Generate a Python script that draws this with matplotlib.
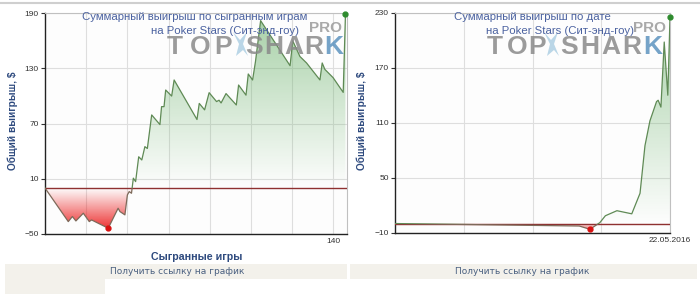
import numpy as np
import matplotlib
matplotlib.use("Agg")
import matplotlib.pyplot as plt
from matplotlib.path import Path
from matplotlib.patches import Rectangle, Polygon
from matplotlib.lines import Line2D

plt.rcParams['font.family'] = ['Liberation Sans', 'DejaVu Sans']

# --- data: cumulative winnings by games played (left) ---
games = [0, 11.3, 13.3, 15, 18.6, 21.5, 22.6, 30.7, 35.5, 36.4, 38.8, 40, 40.9, 42,
         42.9, 44, 45.5, 47, 48.5, 49.7, 51.8, 55.8, 56.6, 57.8, 58.6, 61.5, 62.7,
         73.8, 74.9, 77.5, 79.7, 83.3, 84.5, 85.5, 87.9, 92.9, 94, 97.6, 98.7, 100.8,
         102.2, 104.7, 119, 120.3, 123.8, 127, 133.5, 134.6, 135.9, 139.9, 144.8, 145.9]
win_games = [0, -36.5, -31, -35.8, -27.4, -36.5, -34.7, -43.7, -22, -25.6, -29.2, -7.5, -3.9, -5.7,
             10.7, 7, 34, 30.5, 45, 43, 79.5, 69, 88.5, 88.5, 106.6, 100, 117.5,
             74.5, 92, 85, 103.7, 94, 95.5, 92.5, 102.7, 90.3, 112, 101, 124, 117.5,
             137.5, 182, 133, 160, 143, 136, 117.5, 136, 129, 120, 104, 189]
games_ticks = [20, 40, 60, 80, 100, 120, 140]
games_ticklabels = ['', '', '', '', '', '', '140']
games_yticks = [-50, 10, 70, 130, 190]

# --- data: cumulative winnings by date (right), x = day index ---
days = [0, 67, 70.9, 74.5, 76.5, 80.7, 86.1, 89.1, 90.9, 92.7, 95.1, 95.7, 96.7, 97.9, 99.2, 100]
win_days = [0, -2.7, -6.3, 1, 8.5, 14, 10.6, 33, 85, 112, 133, 134.5, 127, 198, 140, 225]
days_ticks = [25, 50, 75, 100]
days_ticklabels = ['', '', '', '22.05.2016']
days_yticks = [-10, 50, 110, 170, 230]

W, H = 700, 294
LINE_GREEN = '#5f8a55'
LINE_BROWN = '#7d6a5a'
TITLE_BLUE = '#4b62a0'
LABEL_BLUE = '#2e4a7e'
LOGO_GRAY = '#8a8a8a'
LOGO_BLUE = '#5d93bf'


def px(x, y):
    return x / W, 1 - y / H


def gradient_fill(ax, x, y, xlim, ylim):
    verts = [(x[0], 0)] + list(zip(x, y)) + [(x[-1], 0), (x[0], 0)]
    path = Path(verts, closed=True)
    n = 256
    # green above zero: stronger at top, fading to zero
    g = np.zeros((n, 1, 4))
    g[:, 0, :3] = (0.42, 0.70, 0.42)
    g[:, 0, 3] = np.linspace(0.0, 0.6, n)
    im = ax.imshow(g, extent=[xlim[0], xlim[1], 0, ylim[1]], origin='lower',
                   aspect='auto', zorder=1, interpolation='bilinear')
    im.set_clip_path(path, transform=ax.transData)
    # red below zero: strong at bottom, fading to zero
    r = np.zeros((n, 1, 4))
    r[:, 0, :3] = (0.92, 0.05, 0.05)
    r[:, 0, 3] = np.linspace(0.95, 0.0, n)
    im2 = ax.imshow(r, extent=[xlim[0], xlim[1], ylim[0], 0], origin='lower',
                    aspect='auto', zorder=1, interpolation='bilinear')
    im2.set_clip_path(path, transform=ax.transData)


def draw_panel(ax, x, y, xlim, ylim, xticks, xticklabels, yticks):
    ax.set_facecolor('#fdfdfd')
    ax.set_xlim(xlim)
    ax.set_ylim(ylim)
    gradient_fill(ax, x, y, xlim, ylim)
    ax.axhline(0, color='#8e3030', lw=1, zorder=3)
    up, = ax.plot(x, y, color=LINE_GREEN, lw=0.9, zorder=4)
    up.set_clip_path(Rectangle((xlim[0], 0), xlim[1] - xlim[0], ylim[1], transform=ax.transData))
    dn, = ax.plot(x, y, color=LINE_BROWN, lw=0.9, zorder=4)
    dn.set_clip_path(Rectangle((xlim[0], ylim[0]), xlim[1] - xlim[0], -ylim[0], transform=ax.transData))
    i_min = int(np.argmin(y))
    ax.plot(x[i_min], y[i_min], 'o', color='#d81010', ms=3.5, zorder=5, clip_on=False)
    ax.plot(x[-1], y[-1], 'o', color='#2e8b2e', ms=3.5, zorder=5, clip_on=False)
    ax.set_xticks(xticks)
    ax.set_xticklabels(xticklabels)
    ax.set_yticks(yticks)
    ax.grid(True, color='#dedede', lw=0.8, zorder=0)
    ax.set_axisbelow(True)
    ax.tick_params(axis='y', length=3, width=0.8, colors='#333333', labelsize=6, pad=1.5)
    ax.tick_params(axis='x', length=0, colors='#333333', labelsize=6, pad=3)
    for s in ['left', 'bottom']:
        ax.spines[s].set_color('#222222')
        ax.spines[s].set_linewidth(1)
    for s in ['top', 'right']:
        ax.spines[s].set_color('#c0c0c0')
        ax.spines[s].set_linewidth(0.8)


def draw_logo(centers, fish_x, pro_x, size):
    # watermark "TOP SHARK PRO", letters placed one by one
    for ch, cx in zip('TOPSHARK', centers):
        fig.text(*px(cx, 54), ch, fontsize=size, fontweight='bold',
                 color=LOGO_BLUE if ch == 'K' else LOGO_GRAY,
                 ha='center', va='baseline', alpha=0.85, zorder=6)
    # small fish mark between TOP and SHARK
    fish = [px(fish_x - 7, 32), px(fish_x - 1, 44), px(fish_x - 4, 56), px(fish_x + 3, 50),
            px(fish_x + 8, 56), px(fish_x + 3, 44), px(fish_x + 7, 32), px(fish_x, 40)]
    fig.add_artist(Polygon(fish, closed=True, facecolor='#a9cde2', edgecolor='none',
                           alpha=0.8, zorder=6))
    fig.text(*px(pro_x, 32), 'PRO', fontsize=11, fontweight='bold', color='#9a9a9a',
             ha='center', va='baseline', alpha=0.85, zorder=6)


fig = plt.figure(figsize=(7, 2.94), dpi=100)

# page decorations
fig.add_artist(Line2D([0, 1], [1 - 3 / H, 1 - 3 / H], color='#cfcfcf', lw=1.5))
fig.add_artist(Rectangle(px(5, 279), 342 / W, 15 / H, color='#f3f1eb', lw=0))
fig.add_artist(Rectangle(px(5, 294), 100 / W, 15 / H, color='#f3f1eb', lw=0))
fig.add_artist(Rectangle(px(350, 279), 347 / W, 15 / H, color='#f3f1eb', lw=0))

ax1 = fig.add_axes([45 / W, 1 - 234 / H, 301.5 / W, 220.7 / H])
draw_panel(ax1, games, win_games, (0, 146.4), (-50, 190),
           games_ticks, games_ticklabels, games_yticks)

ax2 = fig.add_axes([395 / W, 1 - 232.7 / H, 275 / W, 220 / H])
draw_panel(ax2, days, win_days, (0, 100), (-10, 230),
           days_ticks, days_ticklabels, days_yticks)

draw_logo([175, 200, 223, 254, 274, 294, 314, 334], 240, 325, 19)
draw_logo([495, 517, 537, 569, 590, 611, 632, 653], 551, 650, 19)

# titles
fig.text(*px(195, 20.5), 'Суммарный выигрыш по сыгранным играм', fontsize=8.2,
         color=TITLE_BLUE, ha='center', va='baseline', zorder=7)
fig.text(*px(225, 34), 'на Poker Stars (Сит-энд-гоу)', fontsize=8.2,
         color=TITLE_BLUE, ha='center', va='baseline', zorder=7)
fig.text(*px(532, 20.5), 'Суммарный выигрыш по дате', fontsize=8.2,
         color=TITLE_BLUE, ha='center', va='baseline', zorder=7)
fig.text(*px(560, 34), 'на Poker Stars (Сит-энд-гоу)', fontsize=8.2,
         color=TITLE_BLUE, ha='center', va='baseline', zorder=7)

# axis labels
for x0 in (12.5, 362):
    fig.text(*px(x0, 121), 'Общий выигрыш, $', fontsize=7.3, fontweight='bold',
             color=LABEL_BLUE, rotation=90, ha='center', va='center')
fig.text(*px(197, 257), 'Сыгранные игры', fontsize=7.7, fontweight='bold',
         color=LABEL_BLUE, ha='center', va='center')

# link captions
for cx in (177, 522):
    fig.text(*px(cx, 271), 'Получить ссылку на график', fontsize=6.5,
             family='DejaVu Sans', color='#4a6080', ha='center', va='center')

fig.savefig('out.png', dpi=100)
